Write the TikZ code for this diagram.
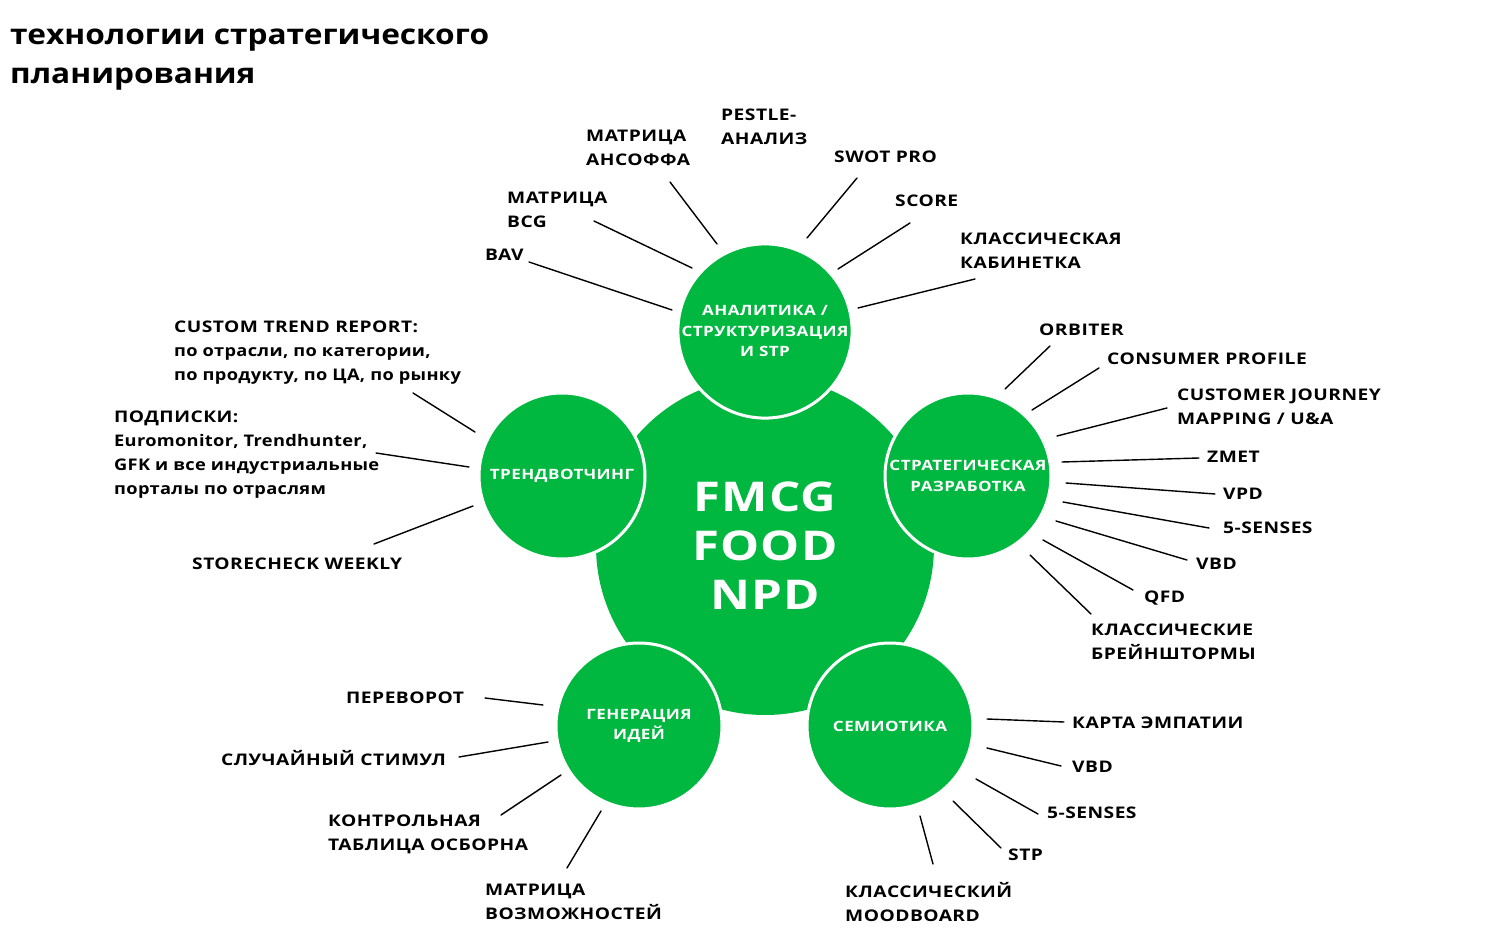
\documentclass[tikz,border=0pt]{standalone}
\usepackage{fontspec}
\setmainfont{Open Sans}
\newfontfamily\lab{Open Sans}[FakeStretch=1.2,LetterSpace=3]
\newfontfamily\ttl{Open Sans}[FakeStretch=1.13]
\newfontfamily\lowlab{Open Sans}[FakeStretch=1.14,LetterSpace=2]
\definecolor{fmgreen}{RGB}{0,184,64}
\tikzset{
  lbl/.style={font=\lab\bfseries\fontsize{16}{24}\selectfont, anchor=west, inner sep=0pt, align=left, text=black},
  ray/.style={line width=1.4pt, black, line cap=round},
  sat/.style={circle, fill=fmgreen, draw=white, line width=3pt, minimum size=166pt, inner sep=0pt, text=white, align=center, font=\lab\bfseries\fontsize{14.2}{20.5}\selectfont},
}
\begin{document}
\begin{tikzpicture}[x=1pt,y=-1pt]
\useasboundingbox (0,0) rectangle (1500,949);
\fill[white] (0,0) rectangle (1500,949);

% title
\node[font=\ttl\bfseries\fontsize{28}{39}\selectfont, anchor=north west, inner sep=0pt, align=left] (title) at (10,29) {технологии стратегического\\планирования};

% central circle
\node[circle, fill=fmgreen, minimum size=338pt, inner sep=0pt, text=white, align=center, font=\lab\bfseries\fontsize{41}{49}\selectfont] (core) at (765,546) {FMCG\\FOOD\\NPD};

% satellites
\node[sat] (ana) at (765,331) {АНАЛИТИКА /\\СТРУКТУРИЗАЦИЯ\\И STP};
\node[sat] (str) at (968,476) {СТРАТЕГИЧЕСКАЯ\\РАЗРАБОТКА};
\node[sat] (trd) at (562,476) {ТРЕНДВОТЧИНГ};
\node[sat] (gen) at (639,726) {ГЕНЕРАЦИЯ\\ИДЕЙ};
\node[sat] (sem) at (890,726) {СЕМИОТИКА};

% labels: analytics
\node[lbl] (bav) at (485,255) {BAV};
\node[lbl] (bcg) at (507,210) {МАТРИЦА\\BCG};
\node[lbl] (ans) at (586,148) {МАТРИЦА\\АНСОФФА};
\node[lbl] (pes) at (721,127) {PESTLE-\\АНАЛИЗ};
\node[lbl] (swot) at (834,157) {SWOT PRO};
\node[lbl] (score) at (895,201) {SCORE};
\node[lbl] (kab) at (960,251) {КЛАССИЧЕСКАЯ\\КАБИНЕТКА};

% labels: trends
\node[lbl] (ctr) at (174,353) {CUSTOM TREND REPORT:\\{\lowlab\bfseries по отрасли, по категории,}\\{\lowlab\bfseries по продукту, по ЦА, по рынку}};
\node[lbl] (sub) at (114,455) {ПОДПИСКИ:\\{\lowlab\bfseries Euromonitor, Trendhunter,}\\{\lowlab\bfseries GFK и все индустриальные}\\{\lowlab\bfseries порталы по отраслям}};
\node[lbl] (stc) at (192,564) {STORECHECK WEEKLY};

% labels: strategy
\node[lbl] (orb) at (1039,330) {ORBITER};
\node[lbl] (cpr) at (1107,359) {CONSUMER PROFILE};
\node[lbl] (cjm) at (1177,407) {CUSTOMER JOURNEY\\MAPPING / U\&A};
\node[lbl] (zmet) at (1207,457) {ZMET};
\node[lbl] (vpd) at (1223,494) {VPD};
\node[lbl] (fsa) at (1223,528) {5-SENSES};
\node[lbl] (vbda) at (1196,564) {VBD};
\node[lbl] (qfd) at (1144,598) {QFD};
\node[lbl] (brs) at (1091,642) {КЛАССИЧЕСКИЕ\\БРЕЙНШТОРМЫ};

% labels: ideas
\node[lbl] (per) at (346,698) {ПЕРЕВОРОТ};
\node[lbl] (sls) at (221,758) {СЛУЧАЙНЫЙ СТИМУЛ};
\node[lbl] (osb) at (328,834) {КОНТРОЛЬНАЯ\\ТАБЛИЦА ОСБОРНА};
\node[lbl] (mvz) at (485,902) {МАТРИЦА\\ВОЗМОЖНОСТЕЙ};

% labels: semiotics
\node[lbl] (emp) at (1072,723) {КАРТА ЭМПАТИИ};
\node[lbl] (vbdb) at (1072,767) {VBD};
\node[lbl] (fsb) at (1047,813) {5-SENSES};
\node[lbl] (stp) at (1008,855) {STP};
\node[lbl] (mood) at (845,902) {КЛАССИЧЕСКИЙ\\MOODBOARD};

% connectors
\foreach \n/\o/\i in {
  bav/{529,262}/{672,310},
  bcg/{594,221}/{692,268},
  ans/{670,182}/{717,244},
  swot/{857,178}/{807,238},
  score/{910,223}/{838,269},
  kab/{975,279}/{858,308},
  ctr/{413,393}/{475,432},
  sub/{376,453}/{469,467},
  stc/{374,544}/{473,506},
  orb/{1050,346}/{1005,389},
  cpr/{1099,368}/{1032,410},
  cjm/{1167,408}/{1057,436},
  zmet/{1199,458}/{1062,462},
  vpd/{1215,494}/{1066,483},
  fsa/{1209,528}/{1063,502},
  vbda/{1187,560}/{1056,521},
  qfd/{1133,590}/{1043,540},
  brs/{1091,614}/{1030,555},
  per/{485,698}/{543,705},
  sls/{459,757}/{548,742},
  osb/{501,815}/{561,775},
  mvz/{567,868}/{601,811},
  emp/{1064,722}/{987,719},
  vbdb/{1061,766}/{987,748},
  fsb/{1038,814}/{976,779},
  stp/{1001,848}/{953,801},
  mood/{933,864}/{920,816}}{
  \coordinate (\n-o) at (\o);
  \coordinate (\n-i) at (\i);
  \draw[ray] (\n-o) -- (\n-i);
}
\end{tikzpicture}
\end{document}
